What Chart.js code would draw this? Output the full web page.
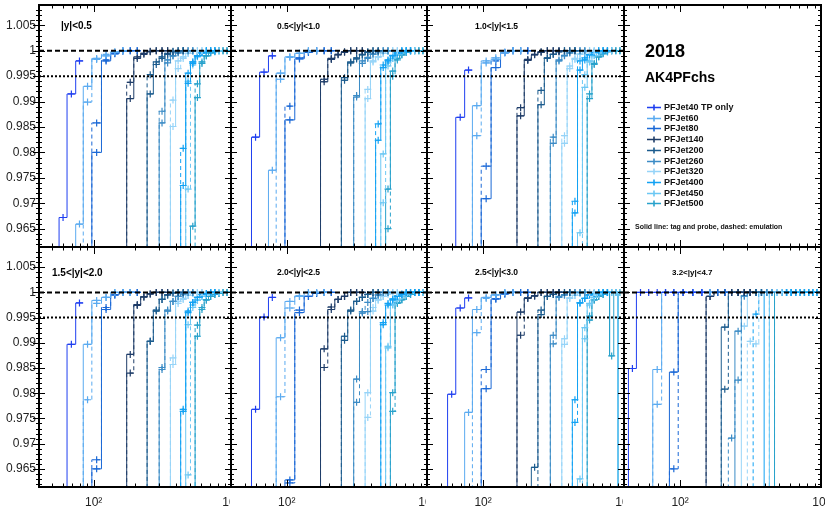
<!DOCTYPE html>
<html>
<head>
<meta charset="utf-8">
<script src="https://cdn.jsdelivr.net/npm/chart.js@4.4.1/dist/chart.umd.min.js"></script>
<style>
  html, body { margin: 0; padding: 0; background: #fff; }
  #wrap { position: relative; width: 825px; height: 507px; overflow: hidden; background: #fff; }
  #wrap canvas { position: absolute; }
</style>
</head>
<body>
<div id="wrap"></div>
<script>
// jet pT bin edges (GeV)
const ptEdges = [37, 43, 49, 56, 64, 74, 84, 97, 114, 133, 153, 174, 196, 220, 245, 272, 300, 330, 362,
                 395, 430, 468, 507, 548, 592, 638, 686, 737, 790, 846, 905, 967, 1032];
const ptRange = [40, 1000];
const effRange = [0.9614, 1.009];
const refLevels = [1, 0.995];
const triggers = ['PFJet40 TP only', 'PFJet60', 'PFJet80', 'PFJet140', 'PFJet200',
                  'PFJet260', 'PFJet320', 'PFJet400', 'PFJet450', 'PFJet500'];
const rapBins = ['|y|<0.5', '0.5<|y|<1.0', '1.0<|y|<1.5', '1.5<|y|<2.0', '2.0<|y|<2.5', '2.5<|y|<3.0', '3.2<|y|<4.7'];
const yTickVals = [0.965, 0.97, 0.975, 0.98, 0.985, 0.99, 0.995, 1, 1.005];
const xTickVals = [100, 1000];
const xTickText = ['10\u00b2', '10\u00b3'];
const yearLabel = '2018';
const jetLabel = 'AK4PFchs';
const styleNote = 'Solid line: tag and probe, dashed: emulation';

// each curve: [index of first bin, efficiency in that bin, next bin, ...]
// solid = tag and probe, dashed = emulation
const tnp_y0 = [
  [2, 0.95, 0.9672, 0.9915, 0.9980],
  [4, 0.95, 0.9659, 0.9930, 0.9985, 0.9990, 0.9997, 1.0],
  [6, 0.95, 0.9800, 0.9980, 0.9994, 0.9999, 1.0, 1.0],
  [10, 0.95, 0.9906, 0.9985, 0.9993, 0.9998, 1.0, 1.0, 1.0],
  [13, 0.95, 0.9915, 0.9973, 0.9985, 0.9993, 0.9998, 1.0, 1.0],
  [15, 0.95, 0.9858, 0.9982, 0.9990, 0.9996, 1.0, 1.0, 1.0],
  [17, 0.95, 0.9851, 0.9980, 0.9988, 0.9995, 0.9999, 1.0, 1.0],
  [19, 0.95, 0.9735, 0.9956, 0.9978, 0.9990, 0.9996, 1.0, 1.0, 1.0],
  [20, 0.95, 0.9940, 0.9978, 0.9990, 0.9996, 0.9999, 1.0, 1.0, 1.0],
  [21, 0.95, 0.9655, 0.9908, 0.9975, 0.9990, 0.9996, 0.9998, 1.0, 1.0, 1.0, 1.0]
];
const emu_y0 = [
  null,
  [5, 0.95, 0.9899, 0.9983, 0.9993, 0.9998, 1.0],
  [6, 0.95, 0.9858, 0.9982, 0.9995, 1.0, 1.0, 1.0],
  [10, 0.95, 0.9938, 0.9988, 0.9995, 0.9999, 1.0, 1.0, 1.0],
  [13, 0.95, 0.9953, 0.9978, 0.9988, 0.9995, 0.9999, 1.0, 1.0],
  [15, 0.95, 0.9881, 0.9976, 0.9990, 0.9996, 1.0, 1.0, 1.0],
  [17, 0.95, 0.9903, 0.9965, 0.9985, 0.9995, 0.9999, 1.0, 1.0],
  [19, 0.95, 0.9808, 0.9936, 0.9975, 0.9990, 0.9996, 1.0, 1.0, 1.0],
  [20, 0.95, 0.9728, 0.9972, 0.9988, 0.9996, 0.9999, 1.0, 1.0, 1.0],
  [22, 0.95, 0.9935, 0.9978, 0.9990, 0.9996, 0.9999, 1.0, 1.0, 1.0, 1.0]
];
const tnp_y1 = [
  [2, 0.95, 0.9830, 0.9958, 0.9990],
  [4, 0.95, 0.9765, 0.9956, 0.9988, 0.9995, 1.0, 1.0],
  [6, 0.95, 0.9864, 0.9984, 0.9997, 1.0, 1.0, 1.0],
  [10, 0.95, 0.9939, 0.9983, 0.9992, 0.9997, 1.0, 1.0, 1.0],
  [13, 0.95, 0.9942, 0.9976, 0.9984, 0.9992, 0.9997, 1.0, 1.0],
  [15, 0.95, 0.9909, 0.9975, 0.9985, 0.9993, 0.9998, 1.0, 1.0],
  [17, 0.95, 0.9906, 0.9980, 0.9988, 0.9995, 0.9999, 1.0, 1.0],
  [19, 0.95, 0.9824, 0.9967, 0.9980, 0.9990, 0.9996, 1.0, 1.0, 1.0],
  [20, 0.95, 0.9797, 0.9976, 0.9985, 0.9994, 0.9998, 1.0, 1.0, 1.0],
  [21, 0.95, 0.9728, 0.9960, 0.9985, 0.9992, 0.9997, 1.0, 1.0, 1.0, 1.0, 1.0]
];
const emu_y1 = [
  null,
  [5, 0.95, 0.9944, 0.9987, 0.9995, 1.0, 1.0],
  [6, 0.95, 0.9891, 0.9986, 0.9997, 1.0, 1.0, 1.0],
  [10, 0.95, 0.9944, 0.9985, 0.9993, 0.9998, 1.0, 1.0, 1.0],
  [13, 0.95, 0.9947, 0.9978, 0.9986, 0.9993, 0.9998, 1.0, 1.0],
  [15, 0.95, 0.9912, 0.9980, 0.9987, 0.9994, 0.9998, 1.0, 1.0],
  [17, 0.95, 0.9924, 0.9978, 0.9988, 0.9995, 0.9999, 1.0, 1.0],
  [19, 0.95, 0.9856, 0.9972, 0.9982, 0.9991, 0.9996, 1.0, 1.0, 1.0],
  [20, 0.95, 0.9701, 0.9970, 0.9985, 0.9994, 0.9998, 1.0, 1.0, 1.0],
  [21, 0.95, 0.9650, 0.9950, 0.9982, 0.9992, 0.9997, 1.0, 1.0, 1.0, 1.0, 1.0]
];
const tnp_y2 = [
  [3, 0.95, 0.9869, 0.9962],
  [5, 0.95, 0.9892, 0.9976, 0.9983, 0.9996, 1.0, 1.0],
  [6, 0.95, 0.9709, 0.9967, 0.9996, 1.0, 1.0, 1.0],
  [10, 0.95, 0.9872, 0.9981, 0.9992, 0.9997, 1.0, 1.0, 1.0],
  [13, 0.95, 0.9894, 0.9986, 0.9993, 0.9998, 1.0, 1.0, 1.0],
  [15, 0.95, 0.9818, 0.9980, 0.9990, 0.9996, 1.0, 1.0, 1.0],
  [17, 0.95, 0.9818, 0.9970, 0.9985, 0.9994, 0.9998, 1.0, 1.0],
  [19, 0.95, 0.9681, 0.9962, 0.9982, 0.9992, 0.9997, 1.0, 1.0, 1.0],
  [20, 0.95, 0.9642, 0.9928, 0.9978, 0.9990, 0.9996, 1.0, 1.0, 1.0],
  [22, 0.95, 0.9906, 0.9973, 0.9988, 0.9994, 0.9998, 1.0, 1.0, 1.0, 1.0]
];
const emu_y2 = [
  null,
  [5, 0.95, 0.9833, 0.9980, 0.9986, 0.9997, 1.0, 1.0],
  [6, 0.95, 0.9773, 0.9980, 0.9997, 1.0, 1.0, 1.0],
  [10, 0.95, 0.9888, 0.9983, 0.9993, 0.9998, 1.0, 1.0, 1.0],
  [13, 0.95, 0.9922, 0.9985, 0.9993, 0.9998, 1.0, 1.0, 1.0],
  [15, 0.95, 0.9830, 0.9982, 0.9991, 0.9996, 1.0, 1.0, 1.0],
  [17, 0.95, 0.9833, 0.9965, 0.9983, 0.9993, 0.9998, 1.0, 1.0],
  [19, 0.95, 0.9704, 0.9980, 0.9986, 0.9993, 0.9997, 1.0, 1.0, 1.0],
  [20, 0.95, 0.9580, 0.9953, 0.9980, 0.9991, 0.9996, 1.0, 1.0, 1.0],
  [22, 0.95, 0.9915, 0.9975, 0.9988, 0.9995, 0.9998, 1.0, 1.0, 1.0, 1.0]
];
const tnp_y3 = [
  [3, 0.95, 0.9897, 0.9979],
  [5, 0.95, 0.9897, 0.9984, 0.9990, 1.0, 1.0, 1.0],
  [6, 0.95, 0.9650, 0.9966, 0.9995, 1.0, 1.0, 1.0],
  [10, 0.95, 0.9877, 0.9974, 0.9991, 0.9997, 1.0, 1.0, 1.0],
  [13, 0.95, 0.9903, 0.9963, 0.9986, 0.9995, 0.9999, 1.0, 1.0],
  [15, 0.95, 0.9847, 0.9963, 0.9982, 0.9992, 0.9997, 1.0, 1.0],
  [17, 0.95, 0.9857, 0.9982, 0.9988, 0.9994, 0.9998, 1.0, 1.0],
  [19, 0.95, 0.9764, 0.9963, 0.9980, 0.9990, 0.9996, 0.9998, 1.0, 1.0],
  [20, 0.95, 0.9936, 0.9975, 0.9985, 0.9992, 0.9996, 1.0, 1.0, 1.0],
  [22, 0.95, 0.9913, 0.9966, 0.9985, 0.9992, 0.9996, 0.9998, 1.0, 1.0, 1.0]
];
const emu_y3 = [
  null,
  [5, 0.95, 0.9787, 0.9978, 0.9990, 1.0, 1.0, 1.0],
  [6, 0.95, 0.9668, 0.9970, 0.9995, 1.0, 1.0, 1.0],
  [10, 0.95, 0.9840, 0.9976, 0.9991, 0.9997, 1.0, 1.0, 1.0],
  [13, 0.95, 0.9903, 0.9965, 0.9986, 0.9995, 0.9999, 1.0, 1.0],
  [15, 0.95, 0.9851, 0.9965, 0.9982, 0.9992, 0.9997, 1.0, 1.0],
  [17, 0.95, 0.9870, 0.9978, 0.9986, 0.9994, 0.9998, 1.0, 1.0],
  [19, 0.95, 0.9768, 0.9960, 0.9980, 0.9990, 0.9996, 0.9998, 1.0, 1.0],
  [20, 0.95, 0.9638, 0.9970, 0.9984, 0.9992, 0.9996, 1.0, 1.0, 1.0],
  [22, 0.95, 0.9935, 0.9970, 0.9985, 0.9992, 0.9996, 0.9998, 1.0, 1.0, 1.0]
];
const tnp_y4 = [
  [2, 0.95, 0.9768, 0.9951, 0.9990],
  [5, 0.95, 0.9910, 0.9982, 0.9993, 1.0, 1.0, 1.0],
  [6, 0.95, 0.9628, 0.9960, 0.9992, 0.9998, 1.0, 1.0],
  [10, 0.95, 0.9888, 0.9966, 0.9986, 0.9992, 1.0, 1.0, 1.0],
  [13, 0.95, 0.9913, 0.9963, 0.9982, 0.9990, 0.9996, 1.0, 1.0],
  [15, 0.95, 0.9828, 0.9959, 0.9962, 0.9988, 0.9995, 1.0, 1.0],
  [17, 0.95, 0.9801, 0.9963, 0.9985, 0.9992, 0.9997, 1.0, 1.0],
  [20, 0.95, 0.9936, 0.9975, 0.9985, 0.9992, 0.9996, 1.0, 1.0, 1.0, 1.0],
  [21, 0.95, 0.9890, 0.9975, 0.9985, 0.9993, 0.9997, 1.0, 1.0, 1.0, 1.0],
  [22, 0.95, 0.9801, 0.9980, 0.9985, 0.9992, 0.9996, 1.0, 1.0, 1.0, 1.0]
];
const emu_y4 = [
  null,
  [5, 0.95, 0.9793, 0.9969, 0.9992, 1.0, 1.0, 1.0],
  [6, 0.95, 0.9622, 0.9965, 0.9992, 0.9998, 1.0, 1.0],
  [10, 0.95, 0.9851, 0.9971, 0.9986, 0.9992, 1.0, 1.0, 1.0],
  [13, 0.95, 0.9905, 0.9965, 0.9982, 0.9990, 0.9996, 1.0, 1.0],
  [15, 0.95, 0.9782, 0.9962, 0.9980, 0.9988, 0.9995, 1.0, 1.0],
  [17, 0.95, 0.9752, 0.9970, 0.9985, 0.9992, 0.9997, 1.0, 1.0],
  [20, 0.95, 0.9940, 0.9978, 0.9987, 0.9993, 0.9997, 1.0, 1.0, 1.0, 1.0],
  [21, 0.95, 0.9893, 0.9976, 0.9986, 0.9993, 0.9997, 1.0, 1.0, 1.0, 1.0],
  [22, 0.95, 0.9764, 0.9978, 0.9986, 0.9992, 0.9996, 1.0, 1.0, 1.0, 1.0]
];
const tnp_y5 = [
  [2, 0.95, 0.9798, 0.9969, 0.9989],
  [4, 0.95, 0.9762, 0.9966, 0.9990, 0.9995, 1.0, 1.0],
  [6, 0.95, 0.9809, 0.9987, 0.9997, 1.0, 1.0, 1.0],
  [10, 0.95, 0.9961, 0.9989, 0.9993, 1.0, 1.0, 1.0, 1.0],
  [12, 0.95, 0.9653, 0.9956, 0.9992, 0.9996, 1.0, 1.0, 1.0],
  [15, 0.95, 0.9915, 0.9992, 0.9995, 1.0, 1.0, 1.0, 1.0],
  [17, 0.95, 0.9908, 0.9989, 0.9994, 0.9998, 1.0, 1.0, 1.0],
  [19, 0.95, 0.9787, 0.9979, 0.9988, 0.9995, 0.9998, 1.0, 1.0, 1.0],
  [20, 0.95, 0.9630, 0.9930, 0.9978, 0.9990, 0.9996, 1.0, 1.0, 1.0, 1.0, 0.5],
  [22, 0.95, 0.9953, 0.9985, 0.9992, 0.9996, 1.0, 0.9874, 1.0, 0.5, 0.5]
];
const emu_y5 = [
  null,
  [5, 0.95, 0.9920, 0.9988, 0.9995, 1.0, 1.0],
  [6, 0.95, 0.9847, 0.9987, 0.9997, 1.0, 1.0, 1.0],
  [10, 0.95, 0.9915, 0.9988, 0.9993, 1.0, 1.0, 1.0, 1.0],
  [13, 0.95, 0.9965, 0.9992, 0.9996, 1.0, 1.0, 1.0],
  [15, 0.95, 0.9898, 0.9990, 0.9995, 1.0, 1.0, 1.0, 1.0],
  [17, 0.95, 0.9897, 0.9988, 0.9994, 0.9998, 1.0, 1.0, 1.0],
  [19, 0.95, 0.9742, 0.9979, 0.9988, 0.9995, 0.9998, 1.0, 1.0, 1.0],
  [20, 0.95, 0.9580, 0.9908, 0.9975, 0.9990, 0.9996, 1.0, 1.0, 1.0, 1.0],
  [22, 0.95, 0.9945, 0.9985, 0.9992, 0.9996, 1.0, 1.0, 1.0, 1.0, 1.0]
];
const tnp_y6 = [
  [0, 0.95, 0.9849, 1.0, 1.0, 1.0, 1.0, 1.0, 1.0, 1.0, 1.0],
  [3, 0.95, 0.9847, 1.0, 1.0, 1.0, 1.0, 1.0, 1.0],
  [5, 0.95, 0.9842, 1.0, 1.0, 1.0, 1.0, 1.0, 1.0],
  [9, 0.95, 0.9992, 1.0, 1.0, 1.0, 1.0, 1.0, 1.0],
  [11, 0.95, 0.9931, 1.0, 1.0, 1.0, 1.0, 1.0, 1.0],
  [13, 0.95, 0.9923, 0.9993, 1.0, 1.0, 1.0, 1.0, 1.0],
  [14, 0.95, 0.9933, 1.0, 1.0, 1.0, 1.0, 1.0, 1.0],
  [18, 0.95, 1.0, 1.0, 1.0, 1.0, 1.0, 1.0, 1.0, 1.0, 1.0, 1.0, 1.0, 1.0, 1.0],
  [19, 0.95, 1.0, 1.0, 1.0, 1.0, 1.0, 1.0, 1.0, 1.0, 1.0, 1.0, 1.0, 1.0],
  [20, 0.95, 1.0, 1.0, 1.0, 1.0, 1.0, 1.0, 1.0, 1.0, 1.0, 1.0, 1.0]
];
const emu_y6 = [
  null,
  [3, 0.95, 0.9778, 1.0, 1.0, 1.0, 1.0, 1.0, 1.0],
  [5, 0.95, 0.9650, 1.0, 1.0, 1.0, 1.0, 1.0, 1.0],
  [9, 0.95, 0.9992, 1.0, 1.0, 1.0, 1.0, 1.0, 1.0],
  [11, 0.95, 0.9808, 1.0, 1.0, 1.0, 1.0, 1.0, 1.0],
  [12, 0.95, 0.9711, 0.9826, 0.9993, 1.0, 1.0, 1.0, 1.0],
  [15, 0.95, 0.9903, 0.9898, 1.0, 1.0, 1.0, 1.0, 1.0],
  [16, 0.95, 0.9957, 1.0, 1.0, 1.0, 1.0, 1.0, 1.0, 1.0],
  [19, 0.95, 1.0, 1.0, 1.0, 1.0, 1.0, 1.0, 1.0, 1.0, 1.0, 1.0, 1.0, 1.0],
  [20, 0.95, 1.0, 1.0, 1.0, 1.0, 1.0, 1.0, 1.0, 1.0, 1.0, 1.0, 1.0]
];

const tnpSets = [tnp_y0, tnp_y1, tnp_y2, tnp_y3, tnp_y4, tnp_y5, tnp_y6];
const emuSets = [emu_y0, emu_y1, emu_y2, emu_y3, emu_y4, emu_y5, emu_y6];

const trigColors = ['#1f3ff0', '#5aaaf0', '#1a68d6', '#1e3c68', '#1c5c8e',
                    '#3c8cc6', '#96d4f8', '#12a2f4', '#6cc8f4', '#28a2cc'];

const FONT = "'Liberation Sans', Arial, Helvetica, sans-serif";
Chart.defaults.font.family = FONT;

// pad frames (pixel edges of every plot frame)
const frameX = [39, 231, 427, 624, 821];
const frameY = [5, 247, 487];

// panel order on the page, with the position/size of the rapidity tag
const panels = [
  { r: 0, c: 0, rap: 0, lx: 22, ly: 21, fs: 10 },
  { r: 0, c: 1, rap: 1, lx: 46, ly: 22, fs: 8.5 },
  { r: 0, c: 2, rap: 2, lx: 48, ly: 22, fs: 8.5 },
  { r: 0, c: 3, legend: true },
  { r: 1, c: 0, rap: 3, lx: 13, ly: 26, fs: 10 },
  { r: 1, c: 1, rap: 4, lx: 46, ly: 26, fs: 8.5 },
  { r: 1, c: 2, rap: 5, lx: 48, ly: 26, fs: 8.5 },
  { r: 1, c: 3, rap: 6, lx: 48, ly: 26, fs: 8 }
];

function stepPoints(curve) {
  const s = curve[0];
  const pts = [];
  curve.slice(1).forEach((v, k) => {
    pts.push({ x: ptEdges[s + k], y: v }, { x: ptEdges[s + k + 1], y: v });
  });
  return pts;
}

function binMarkers(curve) {
  const s = curve[0];
  const pts = [];
  curve.slice(1).forEach((v, k) => {
    const c = Math.sqrt(ptEdges[s + k] * ptEdges[s + k + 1]);
    if (v >= effRange[0] && c >= ptRange[0] && c <= ptRange[1]) pts.push({ x: c, y: v });
  });
  return pts;
}

function buildDatasets(tnp, emu) {
  const sets = refLevels.map((lvl, i) => ({
    data: ptRange.map(x => ({ x: x, y: lvl })),
    borderColor: '#000',
    borderWidth: 2,
    borderDash: i === 0 ? [5, 3] : [2, 2],
    pointRadius: 0
  }));
  triggers.forEach((t, i) => {
    [[tnp[i], []], [emu[i], [4, 3]]].forEach(([curve, dash]) => {
      if (!curve) return;
      sets.push({
        label: t, data: stepPoints(curve),
        borderColor: trigColors[i], borderWidth: 1, borderDash: dash,
        pointRadius: 0, tension: 0
      });
      sets.push({
        label: t, data: binMarkers(curve), showLine: false,
        pointStyle: 'cross', pointRadius: 3.5, pointBorderWidth: 1.2,
        pointBorderColor: trigColors[i], borderColor: trigColors[i]
      });
    });
  });
  return sets;
}

// minor/major tick positions for the frame
const yTickMarks = [];
for (let m = 962; m <= 1008; m++) yTickMarks.push({ v: m / 1000, major: m % 5 === 0 });
const xTickMarks = [];
[10, 100].forEach(dec => {
  for (let k = (dec === 10 ? 5 : 2); k <= 9; k++) xTickMarks.push({ v: k * dec, major: false });
});
xTickMarks.push({ v: 100, major: true }, { v: 1000, major: true });

const framePlugin = {
  id: 'frame',
  beforeDraw(chart) {
    const ctx = chart.ctx;
    ctx.save();
    ctx.fillStyle = '#fff';
    ctx.fillRect(0, 0, chart.width, chart.height);
    ctx.restore();
  },
  afterDatasetsDraw(chart, args, o) {
    const ctx = chart.ctx;
    const a = chart.chartArea;
    const x = chart.scales.x, y = chart.scales.y;
    ctx.save();
    ctx.strokeStyle = '#000';
    ctx.lineWidth = 1;
    ctx.beginPath();
    yTickMarks.forEach(t => {
      const p = Math.round(y.getPixelForValue(t.v)) + 0.5;
      if (p < a.top || p > a.bottom) return;
      const len = t.major ? 6 : 3;
      ctx.moveTo(a.left - (o.outLeft ? len : 0), p);
      ctx.lineTo(a.left + len, p);
      ctx.moveTo(a.right - len, p);
      ctx.lineTo(a.right, p);
    });
    xTickMarks.forEach(t => {
      const p = Math.round(x.getPixelForValue(t.v)) + 0.5;
      if (p < a.left || p > a.right) return;
      const len = t.major ? 7 : 3.5;
      ctx.moveTo(p, a.top);
      ctx.lineTo(p, a.top + len);
      ctx.moveTo(p, a.bottom - len);
      ctx.lineTo(p, a.bottom);
    });
    ctx.stroke();
    ctx.lineWidth = 2;
    ctx.strokeRect(a.left, a.top, a.right - a.left, a.bottom - a.top);

    ctx.fillStyle = '#000';
    ctx.textBaseline = 'middle';
    ctx.textAlign = 'left';
    if (o.label) {
      ctx.font = 'bold ' + o.fs + 'px ' + FONT;
      ctx.fillText(o.label, a.left + o.lx, a.top + o.ly);
    }
    if (o.legend) {
      ctx.font = 'bold 18px ' + FONT;
      ctx.fillText(yearLabel, a.left + 21, a.top + 47);
      ctx.font = 'bold 14px ' + FONT;
      ctx.fillText(jetLabel, a.left + 21, a.top + 73);
      ctx.font = 'bold 9px ' + FONT;
      triggers.forEach((t, i) => {
        const ry = Math.round(a.top + 102 + i * 10.7) + 0.5;
        ctx.strokeStyle = trigColors[i];
        ctx.lineWidth = 1.6;
        ctx.beginPath();
        ctx.moveTo(a.left + 23, ry);
        ctx.lineTo(a.left + 37, ry);
        ctx.moveTo(a.left + 30, ry - 3);
        ctx.lineTo(a.left + 30, ry + 3);
        ctx.stroke();
        ctx.fillStyle = '#111';
        ctx.fillText(t, a.left + 40, ry);
      });
      ctx.font = 'bold 7px ' + FONT;
      ctx.fillText(styleNote, a.left + 11, a.top + 222);
    }
    ctx.restore();
  }
};

const wrap = document.getElementById('wrap');

panels.forEach(p => {
  const cl = p.c === 0 ? 0 : frameX[p.c] - 1;
  const cr = p.c === 3 ? 825 : frameX[p.c + 1] + 1;
  const ct = p.r === 0 ? 0 : frameY[1] - 1;
  const cb = p.r === 0 ? frameY[1] + 1 : 507;
  const w = cr - cl, h = cb - ct;
  const cv = document.createElement('canvas');
  cv.width = w;
  cv.height = h;
  cv.style.left = cl + 'px';
  cv.style.top = ct + 'px';
  cv.style.width = w + 'px';
  cv.style.height = h + 'px';
  wrap.appendChild(cv);

  const showY = p.c === 0;
  const showX = p.r === 1;
  const datasets = p.legend ? [] : buildDatasets(tnpSets[p.rap], emuSets[p.rap]);

  new Chart(cv.getContext('2d'), {
    type: 'line',
    data: { datasets: datasets },
    plugins: [framePlugin],
    options: {
      responsive: false,
      animation: false,
      devicePixelRatio: 1,
      events: [],
      layout: {
        autoPadding: false,
        padding: {
          left: showY ? 0 : frameX[p.c] - cl,
          right: cr - frameX[p.c + 1],
          top: frameY[p.r] - ct,
          bottom: showX ? 0 : cb - frameY[1]
        }
      },
      plugins: {
        legend: { display: false },
        tooltip: { enabled: false },
        frame: {
          outLeft: p.c === 0,
          legend: !!p.legend,
          label: p.legend ? null : rapBins[p.rap],
          lx: p.lx, ly: p.ly, fs: p.fs
        }
      },
      scales: {
        x: {
          type: 'logarithmic',
          min: ptRange[0],
          max: ptRange[1],
          display: showX,
          grid: { display: false, drawTicks: false },
          border: { display: false },
          afterBuildTicks: s => { s.ticks = xTickVals.map(v => ({ value: v })); },
          afterFit: s => { s.height = showX ? 20 : 0; s.paddingLeft = 0; s.paddingRight = 0; },
          ticks: {
            autoSkip: false,
            maxRotation: 0,
            padding: 8,
            color: '#222',
            font: { size: 12 },
            callback: v => xTickText[xTickVals.indexOf(v)]
          }
        },
        y: {
          type: 'linear',
          min: effRange[0],
          max: effRange[1],
          display: showY,
          grid: { display: false, drawTicks: false },
          border: { display: false },
          afterBuildTicks: s => { s.ticks = yTickVals.map(v => ({ value: v })); },
          afterFit: s => { s.width = showY ? 39 : 0; s.paddingTop = 0; s.paddingBottom = 0; },
          ticks: {
            padding: 3,
            color: '#222',
            font: { size: 12 },
            callback: v => String(+v.toFixed(3))
          }
        }
      }
    }
  });
});
</script>
</body>
</html>
